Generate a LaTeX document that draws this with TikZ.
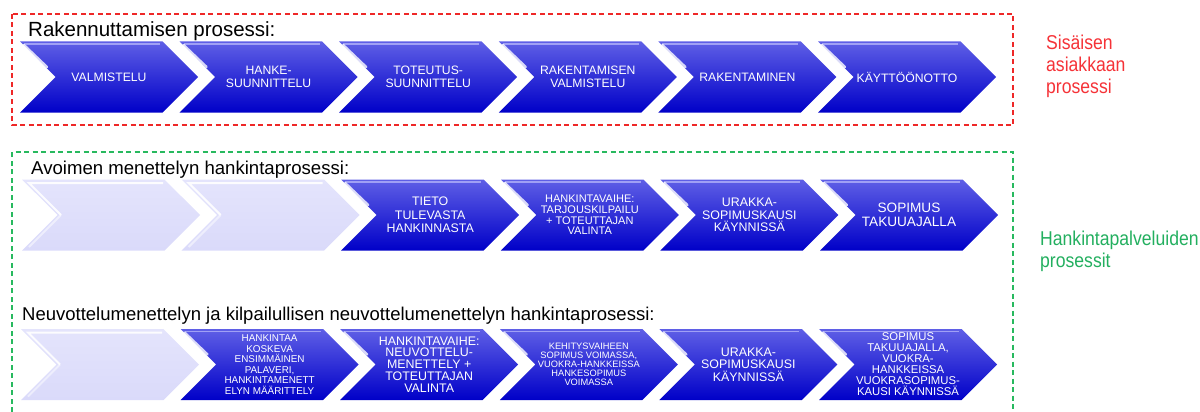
\documentclass[tikz,border=0pt]{standalone}
\usepackage{fontspec}
\setmainfont{Liberation Sans}
\newfontfamily\sidefont[FakeStretch=0.88]{Liberation Sans}
\usetikzlibrary{shapes.symbols, calc, positioning}

\definecolor{chevtop}{RGB}{95,95,230}
\definecolor{chevbot}{RGB}{0,0,200}
\definecolor{chevgloss}{RGB}{160,160,245}
\definecolor{palefill}{RGB}{218,218,250}
\definecolor{paletop}{RGB}{228,228,252}
\definecolor{boxred}{RGB}{238,40,40}
\definecolor{boxgreen}{RGB}{40,185,95}
\definecolor{labelred}{RGB}{245,50,55}
\definecolor{labelgreen}{RGB}{35,175,95}

\tikzset{
  chev/.style={signal, signal from=west, signal to=east, signal pointer angle=90,
    minimum width=178pt, minimum height=71pt, inner sep=0pt, text=white,
    align=center, font=\fontsize{12.2}{13.2}\selectfont},
  chevblue/.style={chev, top color=chevtop, middle color=chevbot, bottom color=chevbot},
  chevpale/.style={chev, top color=paletop, bottom color=palefill},
  shine/.style={draw=white, line width=2.4pt, opacity=0.8, line cap=round},
  gloss/.style={draw=chevgloss, line width=1.2pt},
  bevel/.style={draw=white, line width=2pt, opacity=0.9},
  title/.style={anchor=base west, inner sep=0pt, font=\fontsize{18.6}{22}\selectfont},
  sidelabel/.style={anchor=base west, inner sep=0pt, font=\sidefont\fontsize{20}{21.5}\selectfont},
  dashbox/.style={line width=1.3pt, dash pattern=on 5pt off 3.5pt}
}

\begin{document}
\begin{tikzpicture}[x=1pt, y=-1pt]
  \useasboundingbox (0,0) rectangle (1200,412);

  % dashed frames
  \draw[dashbox, boxred] (12,14) rectangle (1013,125);
  \draw[dashbox, boxgreen] (12,412) -- (12,152) -- (1013,152) -- (1013,412);

  % titles
  \node[title, font=\fontsize{20.5}{24}\selectfont] (t1) at (28,37) {Rakennuttamisen prosessi:};
  \node[title] (t2) at (31,174) {Avoimen menettelyn hankintaprosessi:};
  \node[title, font=\fontsize{18.5}{22}\selectfont] (t3) at (22,320) {Neuvottelumenettelyn ja kilpailullisen neuvottelumenettelyn hankintaprosessi:};

  % side labels
  \node[sidelabel, text=labelred] (sis1) at (1046,50) {Sisäisen};
  \node[sidelabel, text=labelred] (sis2) at (1046,72) {asiakkaan};
  \node[sidelabel, text=labelred] (sis3) at (1046,94) {prosessi};
  \node[sidelabel, text=labelgreen] (hank1) at (1040,245) {Hankintapalveluiden};
  \node[sidelabel, text=labelgreen] (hank2) at (1040,267) {prosessit};

  % row 1
  \node[chevblue] (r1a) at (109,77) {VALMISTELU};
  \node[chevblue] (r1b) at (268.6,77) {HANKE-\\SUUNNITTELU};
  \node[chevblue] (r1c) at (428.2,77) {TOTEUTUS-\\SUUNNITTELU};
  \node[chevblue] (r1d) at (587.8,77) {RAKENTAMISEN\\VALMISTELU};
  \node[chevblue] (r1e) at (747.4,77) {RAKENTAMINEN};
  \node[chevblue] (r1f) at (907,77) {KÄYTTÖÖNOTTO};

  % row 2
  \node[chevpale] (r2a) at (111,215) {};
  \node[chevpale] (r2b) at (270.6,215) {};
  \node[chevblue, font=\fontsize{12.4}{13.5}\selectfont] (r2c) at (430.2,215) {TIETO\\TULEVASTA\\HANKINNASTA};
  \node[chevblue, font=\fontsize{11}{10.6}\selectfont] (r2d) at (589.8,215) {HANKINTAVAIHE:\\TARJOUSKILPAILU\\+ TOTEUTTAJAN\\VALINTA};
  \node[chevblue, font=\fontsize{12.4}{12.5}\selectfont] (r2e) at (749.4,215) {URAKKA-\\SOPIMUSKAUSI\\KÄYNNISSÄ};
  \node[chevblue, font=\fontsize{13.6}{14}\selectfont] (r2f) at (909,215) {SOPIMUS\\TAKUUAJALLA};

  % row 3
  \node[chevpale] (r3a) at (110,364.5) {};
  \node[chevblue, font=\fontsize{9.9}{10.6}\selectfont] (r3b) at (269.6,364.5) {HANKINTAA\\KOSKEVA\\ENSIMMÄINEN\\PALAVERI,\\HANKINTAMENETT\\ELYN MÄÄRITTELY};
  \node[chevblue, font=\fontsize{12.4}{11.8}\selectfont] (r3c) at (429.2,364.5) {HANKINTAVAIHE:\\NEUVOTTELU-\\MENETTELY +\\TOTEUTTAJAN\\VALINTA};
  \node[chevblue, font=\fontsize{9.3}{9}\selectfont] (r3d) at (588.8,364.5) {KEHITYSVAIHEEN\\SOPIMUS VOIMASSA,\\VUOKRA-HANKKEISSA\\HANKESOPIMUS\\VOIMASSA};
  \node[chevblue, font=\fontsize{12.4}{12.5}\selectfont] (r3e) at (748.4,364.5) {URAKKA-\\SOPIMUSKAUSI\\KÄYNNISSÄ};
  \node[chevblue, font=\fontsize{11.3}{11}\selectfont] (r3f) at (908,364.5) {SOPIMUS\\TAKUUAJALLA,\\VUOKRA-\\HANKKEISSA\\VUOKRASOPIMUS-\\KAUSI KÄYNNISSÄ};

  % gloss and shine on the blue chevrons
  \foreach \n in {r1a,r1b,r1c,r1d,r1e,r1f,r2c,r2d,r2e,r2f,r3b,r3c,r3d,r3e,r3f}{
    \draw[gloss] ($(\n.center)+(-85,-33)$) -- ($(\n.center)+(51,-33)$);
    \draw[shine] ($(\n.center)+(-85,-32)$) -- ($(\n.center)+(-62,-10)$);
  }
  % bevel on the pale chevrons
  \foreach \n in {r2a,r2b,r3a}{
    \draw[bevel] ($(\n.center)+(52,-32)$) -- ($(\n.center)+(-82,-32)$) -- ($(\n.center)+(-50,0)$);
    \draw[bevel, opacity=0.5] ($(\n.center)+(-50,0)$) -- ($(\n.center)+(-82,32)$);
  }
\end{tikzpicture}
\end{document}
